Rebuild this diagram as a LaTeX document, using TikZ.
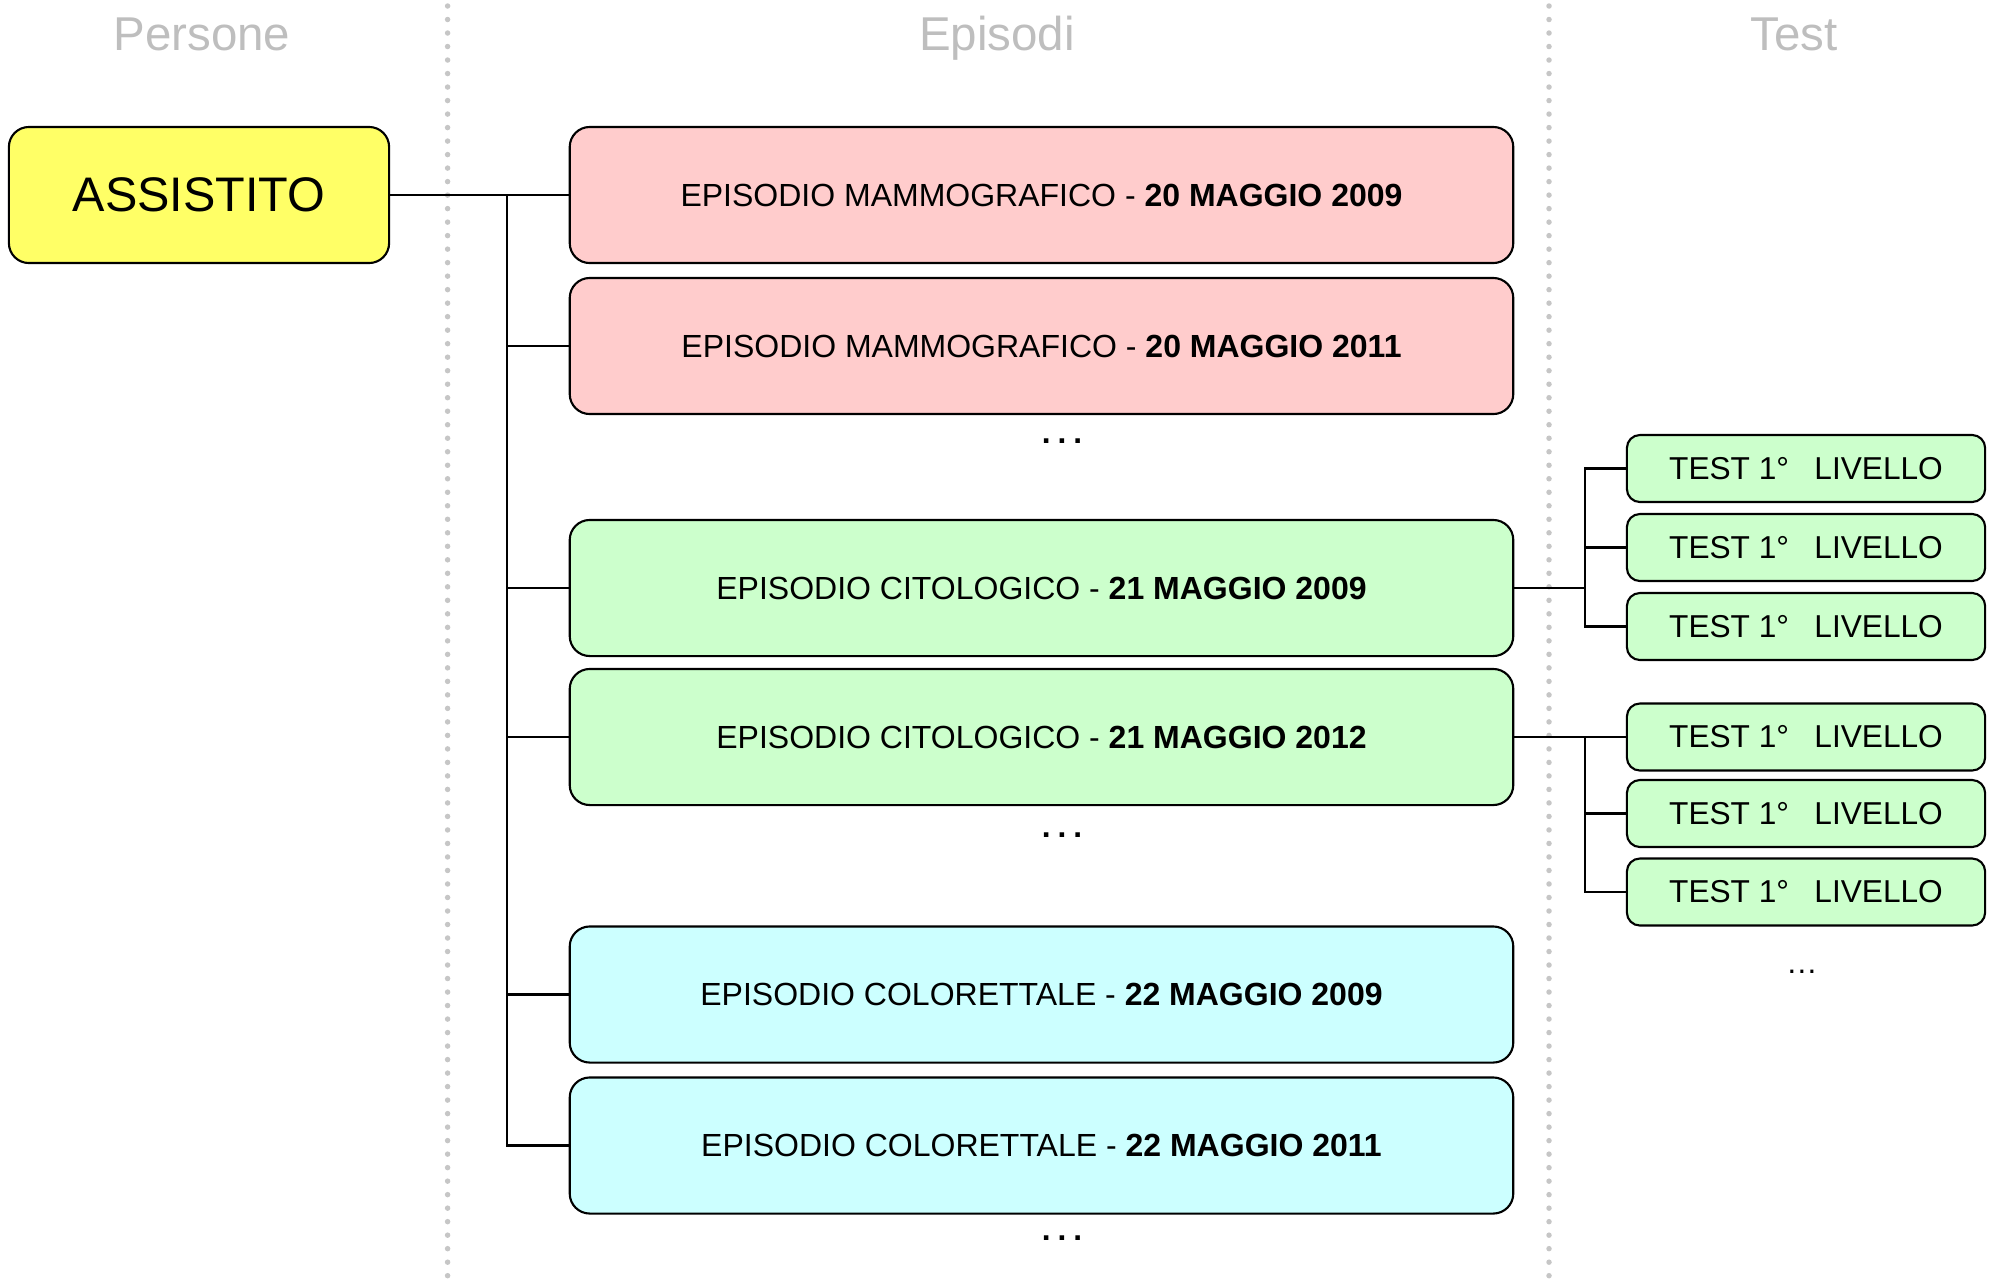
\documentclass[tikz,border=0pt]{standalone}
\usepackage{fontspec}
\setmainfont{Liberation Sans}
\definecolor{assyellow}{RGB}{255,255,102}
\definecolor{mammopink}{RGB}{255,204,204}
\definecolor{citogreen}{RGB}{204,255,204}
\definecolor{colocyan}{RGB}{204,255,255}
\definecolor{headgray}{RGB}{190,190,190}
\definecolor{dotgray}{RGB}{198,198,198}
\begin{document}
\begin{tikzpicture}[x=0.01cm, y=-0.01cm,
  person/.style={draw, line width=0.6pt, rounded corners=0.2cm, fill=assyellow,
    minimum width=3.8cm, minimum height=1.36cm, font=\fontsize{13.8}{16}\selectfont},
  episode/.style={draw, line width=0.6pt, rounded corners=0.2cm,
    minimum width=9.43cm, minimum height=1.36cm, font=\fontsize{9.1}{10}\selectfont},
  testbox/.style={draw, line width=0.6pt, rounded corners=0.13cm, fill=citogreen,
    minimum width=3.58cm, minimum height=0.67cm, font=\fontsize{9}{10}\selectfont},
  header/.style={text=headgray, anchor=base, font=\fontsize{13.5}{16}\selectfont},
  sepline/.style={dotgray, line width=0.055cm, line cap=round, dash pattern=on 0pt off 0.135cm},
  more/.style={font=\fontsize{9}{10}\selectfont},
  link/.style={line width=0.6pt}]
  \useasboundingbox (0,0) rectangle (1994,1281);
  % columns
  \draw[sepline] (447.6,6) -- (447.6,1281);
  \draw[sepline] (1549,6) -- (1549,1281);
  \node[header] (hpers) at (202,50) {Persone};
  \node[header] (hepis) at (997,50) {Episodi};
  \node[header] (htest) at (1794,50) {Test};
  % persone
  \node[person] (ass) at (199,195) {ASSISTITO};
  % episodi
  \node[episode, fill=mammopink] (ep1) at (1041.5,195) {EPISODIO MAMMOGRAFICO - \textbf{20 MAGGIO 2009}};
  \node[episode, fill=mammopink] (ep2) at (1041.5,346) {EPISODIO MAMMOGRAFICO - \textbf{20 MAGGIO 2011}};
  \node[more] (dotsA) at (1062,441) {\textbf{.\kern2pt.\kern2pt.}};
  \node[episode, fill=citogreen] (ep3) at (1041.5,588) {EPISODIO CITOLOGICO - \textbf{21 MAGGIO 2009}};
  \node[episode, fill=citogreen] (ep4) at (1041.5,737) {EPISODIO CITOLOGICO - \textbf{21 MAGGIO 2012}};
  \node[more] (dotsB) at (1062,835) {\textbf{.\kern2pt.\kern2pt.}};
  \node[episode, fill=colocyan] (ep5) at (1041.5,994.5) {EPISODIO COLORETTALE - \textbf{22 MAGGIO 2009}};
  \node[episode, fill=colocyan] (ep6) at (1041.5,1145.5) {EPISODIO COLORETTALE - \textbf{22 MAGGIO 2011}};
  \node[more] (dotsC) at (1062,1238) {\textbf{.\kern2pt.\kern2pt.}};
  % test
  \foreach \t/\y in {1/468.5, 2/547.5, 3/626.5, 4/737, 5/813.5, 6/892}
    \node[testbox] (t\t) at (1806,\y) {TEST 1°\hspace{0.8em}LIVELLO};
  \node[more] (dotsT) at (1802,972) {…};
  % collegamenti
  \coordinate (fork) at (507,195);
  \draw[link] (ass.east) -- (ep1.west);
  \foreach \e in {2,...,6}
    \draw[link] (fork) |- (ep\e.west);
  \coordinate (forkA) at (1585,588);
  \draw[link] (ep3.east) -- (forkA);
  \foreach \t in {1,2,3}
    \draw[link] (forkA) |- (t\t.west);
  \coordinate (forkB) at (1585,737);
  \draw[link] (ep4.east) -- (t4.west);
  \foreach \t in {5,6}
    \draw[link] (forkB) |- (t\t.west);
\end{tikzpicture}
\end{document}
